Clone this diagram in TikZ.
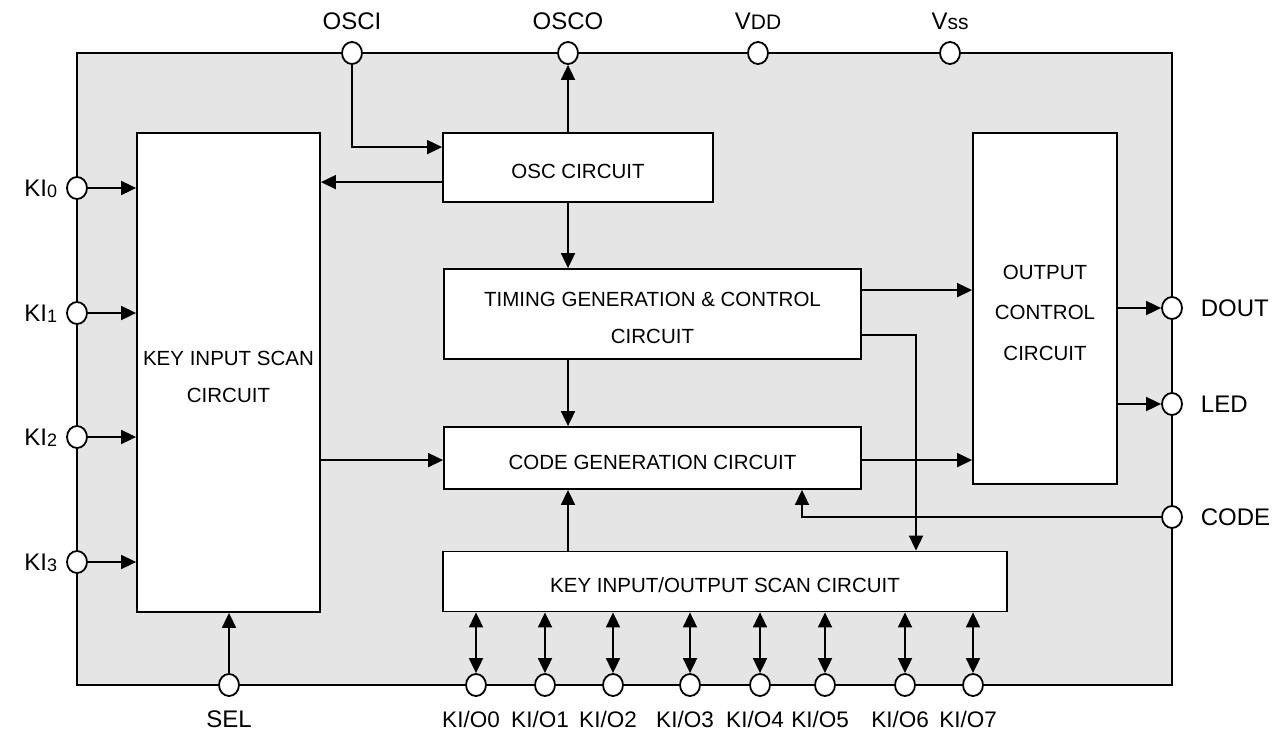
\documentclass[tikz,border=0pt]{standalone}
\usepackage{fontspec}
\setmainfont{Liberation Sans}
\usetikzlibrary{arrows.meta,shapes.geometric,calc}
\definecolor{bg}{HTML}{E5E5E5}
\newcommand{\pinbig}{\fontsize{24}{28}\selectfont}
\newcommand{\pinsmall}{\fontsize{18}{20}\selectfont}
\newcommand{\pinmid}{\fontsize{21}{24}\selectfont}
\newcommand{\dn}[1]{\raisebox{-4pt}[\height][\depth]{#1}}
\begin{document}
\begin{tikzpicture}[x=1pt,y=-1pt,line width=1.8pt,
  arr/.style={-{Triangle[length=15pt,width=14pt]}},
  darr/.style={{Triangle[length=15pt,width=14pt]}-{Triangle[length=15pt,width=14pt]}},
  blk/.style={draw,fill=white,rectangle,inner sep=0pt,align=center,font=\fontsize{20.5}{37}\selectfont},
  pin/.style={draw,fill=white,ellipse,inner sep=0pt,minimum width=20pt,minimum height=22pt},
  lbl/.style={inner sep=0pt,font=\pinbig},
  slbl/.style={inner sep=0pt,font=\fontsize{22.5}{26}\selectfont}]
\useasboundingbox (0,0) rectangle (1281,736);
\node[draw,fill=bg,rectangle,minimum width=1095pt,minimum height=632pt,inner sep=0pt] (chip) at (624.5,369) {};
% blocks
\node[blk,minimum width=183pt,minimum height=479pt] (keyscan) at (228.5,372.5) {\dn{KEY INPUT SCAN}\\\dn{CIRCUIT}};
\node[blk,minimum width=270pt,minimum height=69pt] (osc) at (578,167.5) {\dn{OSC CIRCUIT}};
\node[blk,minimum width=417pt,minimum height=90pt] (timing) at (652.5,314) {\dn{TIMING GENERATION \& CONTROL}\\\dn{CIRCUIT}};
\node[blk,minimum width=417pt,minimum height=62pt] (codegen) at (652.5,458) {\dn{CODE GENERATION CIRCUIT}};
\node[blk,minimum width=564pt,minimum height=60pt] (kio) at (725,581.5) {\dn{KEY INPUT/OUTPUT SCAN CIRCUIT}};
\node[blk,minimum width=144pt,minimum height=351pt,font=\fontsize{20.5}{40.5}\selectfont] (outctl) at (1045,308.5) {\dn{OUTPUT}\\\dn{CONTROL}\\\dn{CIRCUIT}};
% pins
\node[pin] (osci) at (352,53) {};
\node[pin] (osco) at (568,53) {};
\node[pin] (vdd) at (758,53) {};
\node[pin] (vss) at (950,53) {};
\node[pin] (ki0) at (77,188) {};
\node[pin] (ki1) at (77,313) {};
\node[pin] (ki2) at (77,437) {};
\node[pin] (ki3) at (77,562) {};
\node[pin] (dout) at (1172,308) {};
\node[pin] (led) at (1172,404) {};
\node[pin] (code) at (1172,517) {};
\node[pin] (sel) at (229,685) {};
\foreach \i/\x in {0/476,1/545,2/613,3/690,4/760,5/825,6/905,7/973}{
  \node[pin] (kio\i) at (\x,685) {};
}
% labels
\node[lbl,anchor=base] (losci) at (352,29) {OSCI};
\node[lbl,anchor=base] (losco) at (568,29) {OSCO};
\node[lbl,anchor=base] (lvdd) at (758,29) {V{\pinmid DD}};
\node[lbl,anchor=base] (lvss) at (950,29) {V{\pinmid ss}};
\foreach \i/\y in {0/188,1/313,2/437,3/562}{
  \node[lbl,anchor=base east] (lki\i) at (58,\y+8) {KI{\pinsmall\raisebox{-1pt}{\i}}};
}
\node[lbl,anchor=base west] (ldout) at (1200,316) {DOUT};
\node[lbl,anchor=base west] (lled) at (1200,412) {LED};
\node[lbl,anchor=base west] (lcode) at (1200,525) {CODE};
\node[lbl,anchor=base] (lsel) at (229,727) {SEL};
\foreach \i/\x in {0/476,1/545,2/613,3/690,4/760,5/825,6/905,7/973}{
  \node[slbl,anchor=base] (lkio\i) at (\x-5,727) {KI/O\i};
}
% connectors
\coordinate (oscin) at ($(osc.north west)+(0,15)$);
\coordinate (oscout) at ($(osc.north west)+(0,50)$);
\coordinate (tm1) at ($(timing.north east)+(0,22)$);
\coordinate (tm2) at ($(timing.north east)+(0,67)$);
\coordinate (cgl) at ($(codegen.north west)+(0,34)$);
\coordinate (cgr) at ($(codegen.north east)+(0,34)$);
\coordinate (kx) at (916,0);
\coordinate (cx) at (802,0);
\draw[arr] (osci.south) |- (oscin);
\draw[arr] (osco |- osc.north) -- (osco.south);
\draw[arr] (oscout) -- (keyscan.east |- oscout);
\draw[arr] (osco |- osc.south) -- (osco |- timing.north);
\draw[arr] (tm1) -- (outctl.west |- tm1);
\draw[arr] (tm2) -| (kx |- kio.north);
\draw[arr] (osco |- timing.south) -- (osco |- codegen.north);
\draw[arr] (keyscan.east |- cgl) -- (cgl);
\draw[arr] (cgr) -- (outctl.west |- cgr);
\draw[arr] (code.west) -| (cx |- codegen.south);
\draw[arr] (osco |- kio.north) -- (osco |- codegen.south);
\draw[arr] (outctl.east |- dout) -- (dout.west);
\draw[arr] (outctl.east |- led) -- (led.west);
\foreach \i in {0,1,2,3}{
  \draw[arr] (ki\i.east) -- (keyscan.west |- ki\i);
}
\draw[arr] (sel.north) -- (sel |- keyscan.south);
\foreach \i in {0,...,7}{
  \draw[darr] (kio\i |- kio.south) -- (kio\i.north);
}
\end{tikzpicture}
\end{document}
